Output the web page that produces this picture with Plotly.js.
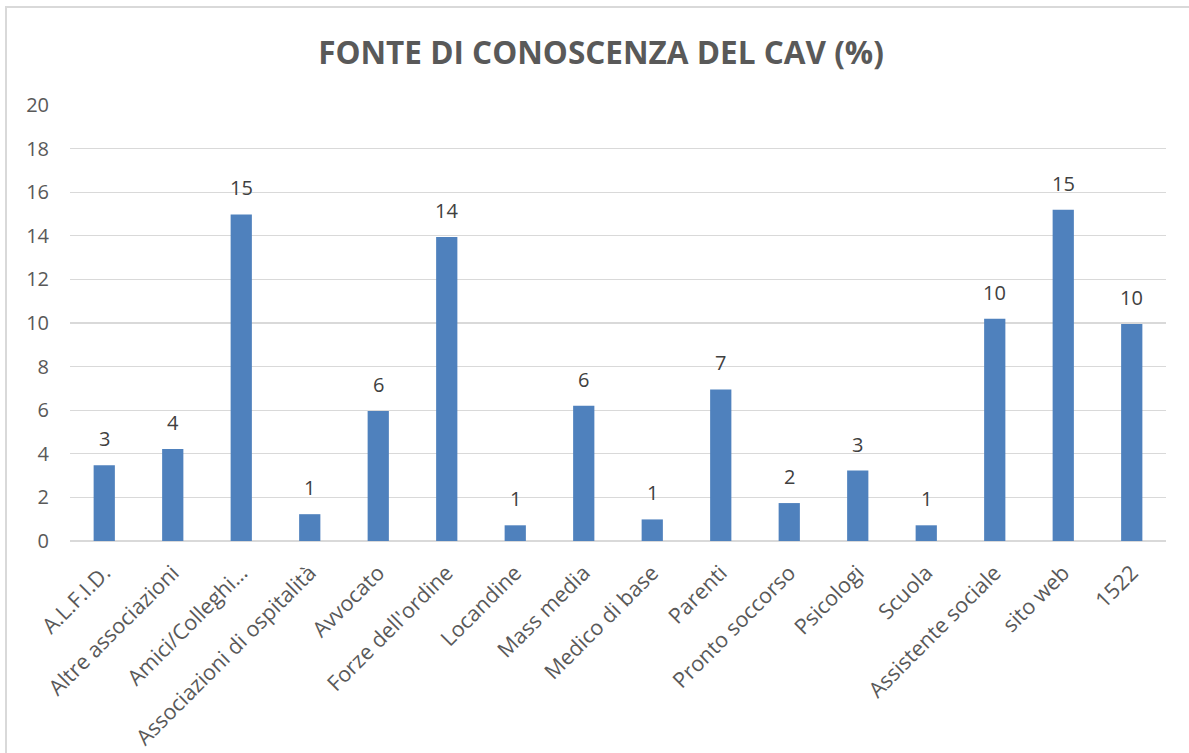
<!DOCTYPE html>
<html>
<head>
<meta charset="utf-8">
<script src="https://cdn.plot.ly/plotly-3.0.1.min.js"></script>
<style>
  html, body { margin: 0; padding: 0; background: #ffffff; overflow: hidden; }
  #chart { width: 1189px; height: 753px; position: absolute; left: 0; top: 0; }
  #frame { position: absolute; left: 5px; top: 6px; width: 1300px; height: 900px;
           border: 2px solid #d9d9d9; pointer-events: none; box-sizing: border-box; }
</style>
</head>
<body>
<div id="chart"></div>
<div id="frame"></div>
<script>
const categories = [
  "A.L.F.I.D.", "Altre associazioni", "Amici/Colleghi…", "Associazioni di ospitalità",
  "Avvocato", "Forze dell'ordine", "Locandine", "Mass media", "Medico di base",
  "Parenti", "Pronto soccorso", "Psicologi", "Scuola", "Assistente sociale",
  "sito web", "1522"
];
const values = [3.47, 4.22, 14.98, 1.23, 5.96, 13.95, 0.72, 6.2, 0.99, 6.95, 1.74, 3.23, 0.72, 10.2, 15.2, 9.95];
const yTickValues = [0, 2, 4, 6, 8, 10, 12, 14, 16, 18, 20];
const chartTitle = "FONTE DI CONOSCENZA DEL CAV (%)";

const FONT = "Open Sans, sans-serif";

const trace = {
  type: "bar",
  x: categories,
  y: values,
  marker: { color: "#4f81bd", line: { width: 0 } },
  hoverinfo: "x+y"
};

const labels = categories.map((c, i) => ({
  x: i,
  y: values[i],
  xref: "x",
  yref: "y",
  text: values[i].toFixed(0),
  showarrow: false,
  yanchor: "bottom",
  yshift: 11,
  font: { family: FONT, size: 20, color: "#404040" }
}));

const layout = {
  width: 1189,
  height: 753,
  paper_bgcolor: "rgba(0,0,0,0)",
  plot_bgcolor: "#ffffff",
  margin: { l: 70, r: 23, t: 105, b: 212 },
  title: {
    text: "<b>" + chartTitle + "</b>",
    font: { family: FONT, size: 31.5, color: "#595959" },
    x: 601 / 1189,
    xref: "container",
    xanchor: "center",
    y: 1 - 53 / 753,
    yanchor: "middle"
  },
  showlegend: false,
  bargap: 0.69,
  xaxis: {
    type: "category",
    range: [-0.5, categories.length - 0.5],
    autorange: false,
    tickangle: -45,
    tickfont: { family: FONT, size: 21.5, color: "#595959" },
    showgrid: false,
    showline: false,
    ticks: "",
    zeroline: false,
    ticklabelstandoff: 14
  },
  yaxis: {
    range: [0, 20],
    autorange: false,
    tickvals: yTickValues,
    tickfont: { family: FONT, size: 20, color: "#595959" },
    showgrid: true,
    gridcolor: "#d9d9d9",
    gridwidth: 1.3,
    zeroline: true,
    zerolinecolor: "#d9d9d9",
    zerolinewidth: 1.5,
    showline: false,
    ticks: "",
    ticklabelstandoff: 20
  },
  annotations: labels
};

Plotly.newPlot("chart", [trace], layout, { displayModeBar: false, staticPlot: true });
</script>
</body>
</html>
